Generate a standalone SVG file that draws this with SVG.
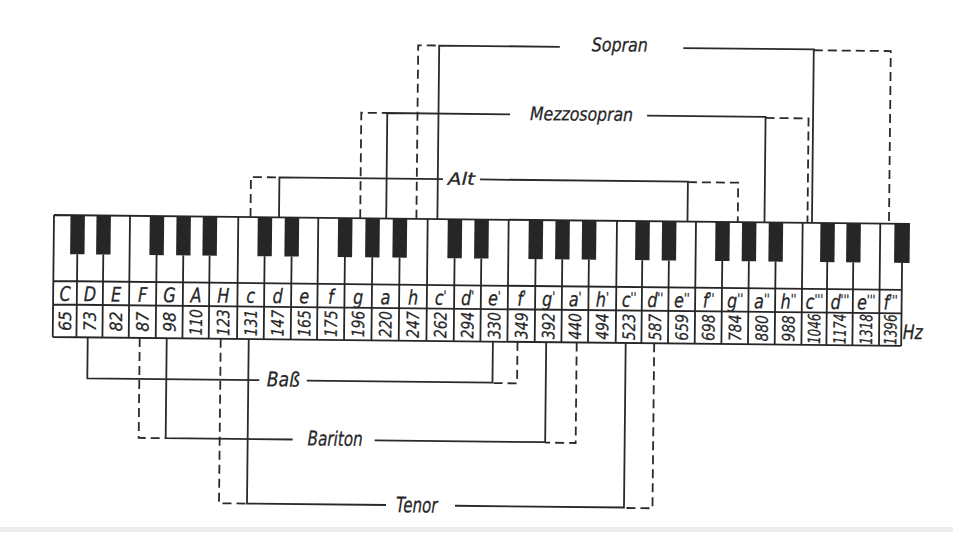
<svg xmlns="http://www.w3.org/2000/svg" width="953" height="550" viewBox="0 0 953 550">
<style>
.k{stroke:#262626;stroke-width:1.8;fill:none}
.bk{fill:#262626}
.lbl{font-family:"DejaVu Sans","Liberation Sans",sans-serif;font-style:italic;font-size:20px;fill:#262626;stroke:#262626;stroke-width:0.3;text-anchor:middle}
.p{font-size:13px}
.fq{font-family:"DejaVu Sans","Liberation Sans",sans-serif;font-style:italic;font-size:17px;fill:#262626;stroke:#262626;stroke-width:0.25;text-anchor:middle}
.v{font-family:"DejaVu Sans","Liberation Sans",sans-serif;font-style:italic;fill:#262626;stroke:#262626;stroke-width:0.3}
.c{stroke:#2a2a2a;stroke-width:1.8;fill:none}
.d{stroke-dasharray:9 5}
</style>
<rect width="953" height="550" fill="#ffffff"/>
<rect x="0" y="527" width="953" height="5" fill="#ececec"/>
<g transform="rotate(0.6 53 216)">
<g id="keyboard">
<path class="k" d="M54 215H910M54 281H902.5M54 304.5H902.5M54 337H902.5M54 215V337M902.5 215V337"/>
<path class="k" d="M130 215V281M238.3 215V281M318.3 215V281M427.7 215V281M508.7 215V281M617 215V281M696 215V281M802.7 215V281M880.3 215V281"/>
<path class="k" d="M77.7 254V281M103.7 254V281M157 254V281M183.7 254V281M210 254V281M265 254V281M292 254V281M345.3 254V281M372.7 254V281M400 254V281M455 254V281M481.7 254V281M536 254V281M562.7 254V281M589.3 254V281M642.7 254V281M669.3 254V281M722.7 254V281M749.3 254V281M776 254V281M827.7 254V281M853.7 254V281"/>
<path class="k" d="M77.7 281V337M103.7 281V337M130 281V337M157 281V337M183.7 281V337M210 281V337M238.3 281V337M265 281V337M292 281V337M318.3 281V337M345.3 281V337M372.7 281V337M400 281V337M427.7 281V337M455 281V337M481.7 281V337M508.7 281V337M536 281V337M562.7 281V337M589.3 281V337M617 281V337M642.7 281V337M669.3 281V337M696 281V337M722.7 281V337M749.3 281V337M776 281V337M802.7 281V337M827.7 281V337M853.7 281V337M880.3 281V337"/>
<g class="bk">
<rect x="70.5" y="215" width="14.4" height="39"/>
<rect x="96.5" y="215" width="14.4" height="39"/>
<rect x="149.8" y="215" width="14.4" height="39"/>
<rect x="176.5" y="215" width="14.4" height="39"/>
<rect x="202.8" y="215" width="14.4" height="39"/>
<rect x="257.8" y="215" width="14.4" height="39"/>
<rect x="284.8" y="215" width="14.4" height="39"/>
<rect x="338.1" y="215" width="14.4" height="39"/>
<rect x="365.5" y="215" width="14.4" height="39"/>
<rect x="392.8" y="215" width="14.4" height="39"/>
<rect x="447.8" y="215" width="14.4" height="39"/>
<rect x="474.5" y="215" width="14.4" height="39"/>
<rect x="528.8" y="215" width="14.4" height="39"/>
<rect x="555.5" y="215" width="14.4" height="39"/>
<rect x="582.1" y="215" width="14.4" height="39"/>
<rect x="635.5" y="215" width="14.4" height="39"/>
<rect x="662.1" y="215" width="14.4" height="39"/>
<rect x="715.5" y="215" width="14.4" height="39"/>
<rect x="742.1" y="215" width="14.4" height="39"/>
<rect x="768.8" y="215" width="14.4" height="39"/>
<rect x="820.5" y="215" width="14.4" height="39"/>
<rect x="846.5" y="215" width="14.4" height="39"/>
<rect x="894.5" y="215" width="15.5" height="39"/>
</g>
<g class="lbl" transform="scale(0.8 1)">
<text x="82.4" y="300.8">C</text>
<text x="113.4" y="300.8">D</text>
<text x="146.1" y="300.8">E</text>
<text x="179.4" y="300.8">F</text>
<text x="213" y="300.8">G</text>
<text x="246.1" y="300.8">A</text>
<text x="280.3" y="300.8">H</text>
<text x="314.6" y="300.8">c</text>
<text x="348.1" y="300.8">d</text>
<text x="381.5" y="300.8">e</text>
<text x="414.8" y="300.8">f</text>
<text x="448.8" y="300.8">g</text>
<text x="483" y="300.8">a</text>
<text x="517.4" y="300.8">h</text>
<text x="551.8" y="300.8">c<tspan class="p" dy="-5">'</tspan></text>
<text x="585.5" y="300.8">d<tspan class="p" dy="-5">'</tspan></text>
<text x="619" y="300.8">e<tspan class="p" dy="-5">'</tspan></text>
<text x="653" y="300.8">f<tspan class="p" dy="-5">'</tspan></text>
<text x="686.8" y="300.8">g<tspan class="p" dy="-5">'</tspan></text>
<text x="720" y="300.8">a<tspan class="p" dy="-5">'</tspan></text>
<text x="754" y="300.8">h<tspan class="p" dy="-5">'</tspan></text>
<text x="787.4" y="300.8">c<tspan class="p" dy="-5">''</tspan></text>
<text x="820" y="300.8">d<tspan class="p" dy="-5">''</tspan></text>
<text x="853.4" y="300.8">e<tspan class="p" dy="-5">''</tspan></text>
<text x="886.8" y="300.8">f<tspan class="p" dy="-5">''</tspan></text>
<text x="920" y="300.8">g<tspan class="p" dy="-5">''</tspan></text>
<text x="953.4" y="300.8">a<tspan class="p" dy="-5">''</tspan></text>
<text x="986.8" y="300.8">h<tspan class="p" dy="-5">''</tspan></text>
<text x="1019" y="300.8">c<tspan class="p" dy="-5">'''</tspan></text>
<text x="1050.9" y="300.8">d<tspan class="p" dy="-5">'''</tspan></text>
<text x="1083.8" y="300.8">e<tspan class="p" dy="-5">'''</tspan></text>
<text x="1114.3" y="300.8">f<tspan class="p" dy="-5">'''</tspan></text>
</g>
<g class="fq">
<text transform="translate(65.9 320.8) rotate(-90)" y="6.2" textLength="20" lengthAdjust="spacingAndGlyphs">65</text>
<text transform="translate(90.7 320.8) rotate(-90)" y="6.2" textLength="20" lengthAdjust="spacingAndGlyphs">73</text>
<text transform="translate(116.9 320.8) rotate(-90)" y="6.2" textLength="20" lengthAdjust="spacingAndGlyphs">82</text>
<text transform="translate(143.5 320.8) rotate(-90)" y="6.2" textLength="20" lengthAdjust="spacingAndGlyphs">87</text>
<text transform="translate(170.4 320.8) rotate(-90)" y="6.2" textLength="20" lengthAdjust="spacingAndGlyphs">98</text>
<text transform="translate(196.9 320.8) rotate(-90)" y="6.2" textLength="26.5" lengthAdjust="spacingAndGlyphs">110</text>
<text transform="translate(224.2 320.8) rotate(-90)" y="6.2" textLength="26.5" lengthAdjust="spacingAndGlyphs">123</text>
<text transform="translate(251.7 320.8) rotate(-90)" y="6.2" textLength="26.5" lengthAdjust="spacingAndGlyphs">131</text>
<text transform="translate(278.5 320.8) rotate(-90)" y="6.2" textLength="26.5" lengthAdjust="spacingAndGlyphs">147</text>
<text transform="translate(305.2 320.8) rotate(-90)" y="6.2" textLength="26.5" lengthAdjust="spacingAndGlyphs">165</text>
<text transform="translate(331.8 320.8) rotate(-90)" y="6.2" textLength="26.5" lengthAdjust="spacingAndGlyphs">175</text>
<text transform="translate(359 320.8) rotate(-90)" y="6.2" textLength="26.5" lengthAdjust="spacingAndGlyphs">196</text>
<text transform="translate(386.4 320.8) rotate(-90)" y="6.2" textLength="26.5" lengthAdjust="spacingAndGlyphs">220</text>
<text transform="translate(413.9 320.8) rotate(-90)" y="6.2" textLength="26.5" lengthAdjust="spacingAndGlyphs">247</text>
<text transform="translate(441.4 320.8) rotate(-90)" y="6.2" textLength="26.5" lengthAdjust="spacingAndGlyphs">262</text>
<text transform="translate(468.4 320.8) rotate(-90)" y="6.2" textLength="26.5" lengthAdjust="spacingAndGlyphs">294</text>
<text transform="translate(495.2 320.8) rotate(-90)" y="6.2" textLength="26.5" lengthAdjust="spacingAndGlyphs">330</text>
<text transform="translate(522.4 320.8) rotate(-90)" y="6.2" textLength="26.5" lengthAdjust="spacingAndGlyphs">349</text>
<text transform="translate(549.4 320.8) rotate(-90)" y="6.2" textLength="26.5" lengthAdjust="spacingAndGlyphs">392</text>
<text transform="translate(576 320.8) rotate(-90)" y="6.2" textLength="26.5" lengthAdjust="spacingAndGlyphs">440</text>
<text transform="translate(603.2 320.8) rotate(-90)" y="6.2" textLength="26.5" lengthAdjust="spacingAndGlyphs">494</text>
<text transform="translate(629.9 320.8) rotate(-90)" y="6.2" textLength="26.5" lengthAdjust="spacingAndGlyphs">523</text>
<text transform="translate(656 320.8) rotate(-90)" y="6.2" textLength="26.5" lengthAdjust="spacingAndGlyphs">587</text>
<text transform="translate(682.7 320.8) rotate(-90)" y="6.2" textLength="26.5" lengthAdjust="spacingAndGlyphs">659</text>
<text transform="translate(709.4 320.8) rotate(-90)" y="6.2" textLength="26.5" lengthAdjust="spacingAndGlyphs">698</text>
<text transform="translate(736 320.8) rotate(-90)" y="6.2" textLength="26.5" lengthAdjust="spacingAndGlyphs">784</text>
<text transform="translate(762.7 320.8) rotate(-90)" y="6.2" textLength="26.5" lengthAdjust="spacingAndGlyphs">880</text>
<text transform="translate(789.4 320.8) rotate(-90)" y="6.2" textLength="26.5" lengthAdjust="spacingAndGlyphs">988</text>
<text transform="translate(815.2 320.8) rotate(-90)" y="6.2" textLength="30.5" lengthAdjust="spacingAndGlyphs">1046</text>
<text transform="translate(840.7 320.8) rotate(-90)" y="6.2" textLength="30.5" lengthAdjust="spacingAndGlyphs">1174</text>
<text transform="translate(867 320.8) rotate(-90)" y="6.2" textLength="30.5" lengthAdjust="spacingAndGlyphs">1318</text>
<text transform="translate(891.4 320.8) rotate(-90)" y="6.2" textLength="30.5" lengthAdjust="spacingAndGlyphs">1396</text>
</g>
<text class="v" x="904" y="330" font-size="20" textLength="20" lengthAdjust="spacingAndGlyphs">Hz</text>
</g>
<g id="connectors">
<path class="c" d="M437.4 215V41.5H558M681.5 41.5H812V215"/>
<path class="c d" d="M416.4 215V41.5H437.4M812 42.3H889V215"/>
<path class="c" d="M386.2 215V109.5H509M646 109.5H764.5V215"/>
<path class="c d" d="M360.2 215V109.5H386.2M764.5 110.5H807.5V215"/>
<path class="c" d="M279 215V175H442.5M479.5 175H687.5V215"/>
<path class="c d" d="M250.5 215V175H279M687.5 175.5H737.8V215"/>
<path class="c" d="M89 337V378H261M308.5 378H494.2V337"/>
<path class="c d" d="M518.8 337V378.5H494.2"/>
<path class="c" d="M168 337V437H295M377 437H547.5V337"/>
<path class="c d" d="M141 337V437H168M578 337V437.5H547.5"/>
<path class="c" d="M250 337V501.5H389M458 501.5H627V337"/>
<path class="c d" d="M222 337V501.5H250M655.5 337V502H627"/>
</g>
<g id="sopran"><text class="v" x="590" y="45.5" font-size="19" textLength="56" lengthAdjust="spacingAndGlyphs">Sopran</text></g>
<g id="mezzosopran"><text class="v" x="529" y="115" font-size="18.5" textLength="103" lengthAdjust="spacingAndGlyphs">Mezzosopran</text></g>
<g id="alt"><text class="v" x="447.5" y="180.5" font-size="17" textLength="27" lengthAdjust="spacingAndGlyphs">Alt</text></g>
<g id="bass"><text class="v" x="268.5" y="384" font-size="20" textLength="33" lengthAdjust="spacingAndGlyphs">Baß</text></g>
<g id="bariton"><text class="v" x="310" y="442.7" font-size="20" textLength="55" lengthAdjust="spacingAndGlyphs">Bariton</text></g>
<g id="tenor"><text class="v" x="399" y="508.5" font-size="21" textLength="41.5" lengthAdjust="spacingAndGlyphs">Tenor</text></g>
</g>
</svg>
